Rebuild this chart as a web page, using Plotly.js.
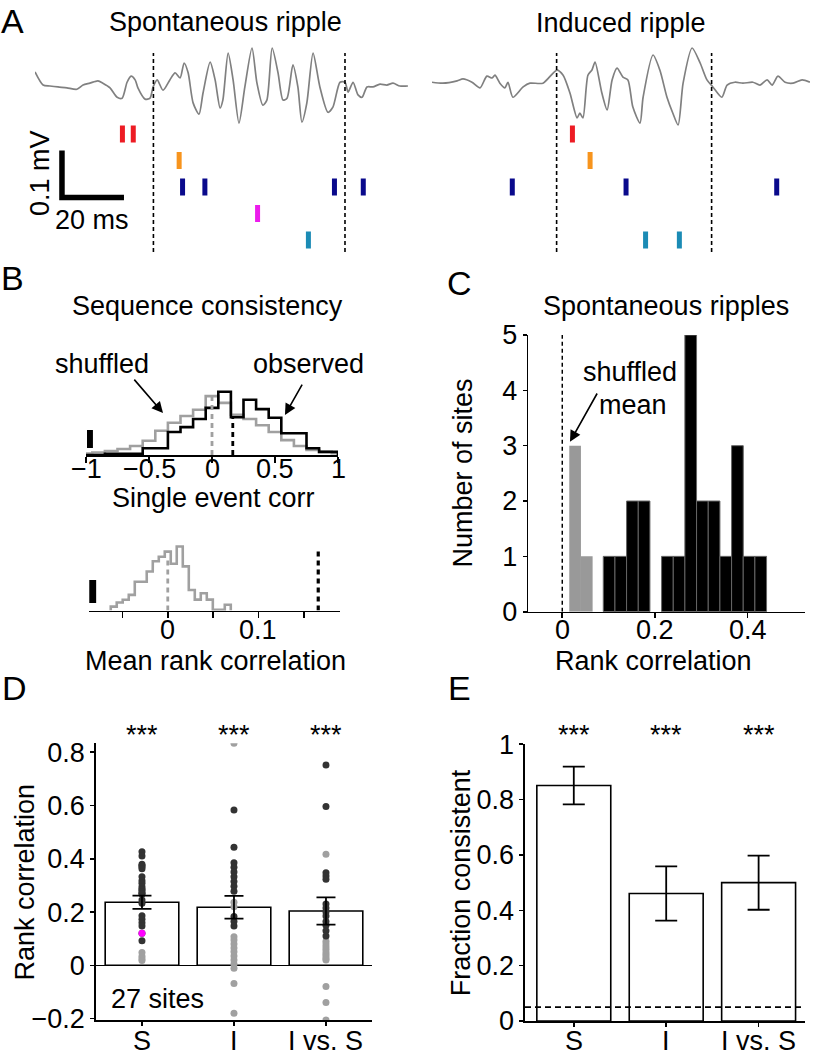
<!DOCTYPE html>
<html><head><meta charset="utf-8">
<script src="https://cdn.plot.ly/plotly-3.0.1.min.js"></script>
<style>html,body{margin:0;padding:0;background:#fff}#chart{width:813px;height:1060px}</style>
</head><body><div id="chart"></div>
<script>
// ================= DATA =================
// Panel A: LFP traces (time in ms, LFP in microvolts)
const spontTime = [0,2.6,4.8,7.4,10.3,13.5,15.5,17.7,20.3,21.9,24.2,26.5,28.1,29.7,31.0,32.3,33.2,35.5,37.1,38.1,39.4,41.3,43.5,45.2,46.8,48.1,49.4,51.0,52.9,54.2,56.5,58.1,59.7,60.6,62.3,63.9,65.8,67.7,70.0,71.6,73.5,74.8,76.5,78.4,80.0,81.3,83.2,84.8,86.1,87.7,89.7,91.9,94.5,96.1,98.4,100.0,101.0,102.6,104.2,105.5,107.1,109.0,111.3,113.5,115.5,117.7,120.3];
const spontLfp = [28,0,-2,-4,-6,-9,0,4,9,4,-6,-26,-28,6,19,11,-6,-30,-28,-4,11,-11,11,26,15,47,26,-38,-62,-17,49,11,-49,-32,68,11,-81,-4,79,4,-43,-32,79,26,-32,-28,43,-4,-79,-38,68,-4,-58,-47,6,6,-15,6,-21,-26,-4,-4,2,0,4,-2,-2];
const inducedTime = [0,3.5,8.1,10.0,12.9,15.5,17.7,19.4,20.3,21.9,23.5,24.5,26.1,29.4,31.6,35.8,40.3,42.3,44.5,46.8,47.7,48.7,50.3,51.6,52.6,54.8,56.5,58.1,59.7,61.6,63.2,64.8,67.1,68.1,71.3,73.5,75.8,77.7,79.4,81.0,83.9,86.5,88.7,90.6,93.5,95.2,97.7,100.3,103.5,105.8,108.1,109.7,111.6,113.9,116.5,119.4,121.9];
const inducedLfp = [6,4,9,13,6,-6,19,15,21,4,-6,6,-26,-4,4,4,32,21,-17,-70,-60,-70,21,32,49,-17,-53,11,36,17,11,-47,-81,-26,64,32,-26,-60,-85,4,79,47,11,-4,-26,0,6,4,6,0,11,0,19,6,4,11,6];
const spontRippleBounds = [38.2, 100.0];
const inducedRippleBounds = [40.2, 90.2];
const unitColors = ['#ed1c24','#f7941d','#0a0a8c','#ec1cec','#1b8bb5'];
const spontSpikeTimes = [[28.2,31.7],[46.5],[47.6,54.8,96.6,105.9],[71.8],[88.2]];
const inducedSpikeTimes = [[45.3],[51.0],[25.9,62.6,111.2],[],[68.9,79.8]];
const scaleBarMs = 20, scaleBarUv = 100;

// Panel B (top): single event correlation histograms
const corrBinCenters = [-1.0,-0.9,-0.8,-0.7,-0.6,-0.5,-0.4,-0.3,-0.2,-0.1,0.0,0.1,0.2,0.3,0.4,0.5,0.6,0.7,0.8,0.9,1.0];
const corrBinWidth = 0.1;
const observedCorrHist = [0,0.0005,0.002,0.002,0.002,0.011,0.011,0.037,0.045,0.058,0.076,0.102,0.061,0.089,0.074,0.060,0.035,0.035,0.011,0.005,0.005];
const shuffledCorrHist = [0.0024,0.004,0.0065,0.0097,0.0145,0.023,0.039,0.052,0.063,0.073,0.095,0.084,0.065,0.058,0.048,0.037,0.024,0.0145,0.008,0.005,0.003];
const corrTickVals = [-1,-0.5,0,0.5,1];
const corrTickText = ['\u22121','\u22120.5','0','0.5','1'];
const shuffledCorrMean = 0.0, observedCorrMean = 0.165;

// Panel B (bottom): mean rank correlation of shuffles
const meanCorrBinCenters = [-0.0596,-0.0530,-0.0464,-0.0397,-0.0331,-0.0265,-0.0199,-0.0132,-0.0066,0.0000,0.0066,0.0132,0.0199,0.0265,0.0331,0.0397,0.0464,0.0530,0.0596,0.0662];
const meanCorrBinWidth = 0.00662;
const shuffledMeanHist = [0.006,0.0125,0.0167,0.0245,0.045,0.045,0.061,0.077,0.084,0.092,0.073,0.100,0.069,0.032,0.017,0.027,0.017,0.001,0.001,0.009];
const meanCorrTickVals = [-0.05,0,0.05,0.1,0.15];
const meanCorrTickText = ['','0','','0.1',''];
const shuffledMeanRank = 0.0, observedMeanRank = 0.166;

// Panel C: spontaneous ripples, rank correlation per site
const cShuffledBins = [0.0277,0.0529];
const cShuffledCounts = [3,1];
const cObservedBins = [0.1011,0.1263,0.1514,0.1766,0.2270,0.2522,0.2773,0.3025,0.3277,0.3529,0.3781,0.4032,0.4284];
const cObservedCounts = [1,1,2,2,1,1,5,2,2,1,3,1,1];
const cBinWidth = 0.0252;
const cTickVals = [0,0.2,0.4];
const cTickText = ['0','0.2','0.4'];

// Panel D: rank correlation per site
const dCategories = ['S','I','I vs. S'];
const dMeans = [0.237,0.218,0.204];
const dSem = [0.025,0.043,0.051];
const dConsistent = [
  [0.4267,0.4105,0.380,0.374,0.370,0.363,0.333,0.318,0.308,0.295,0.287,0.283,0.275,0.270,0.268,0.245,0.233,0.186,0.173,0.160,0.148,0.120,0.092],
  [0.583,0.443,0.385,0.368,0.350,0.333,0.315,0.297,0.278,0.183,0.165,0.148],
  [0.752,0.596,0.348,0.335,0.323,0.230,0.215,0.200,0.185,0.165,0.150,0.130,0.110]
];
const dNotConsistent = [
  [0.048,0.034,0.025,0.018],
  [0.834,0.237,0.220,0.1075,0.095,0.080,0.065,0.051,0.035,0.020,0.005,-0.011,-0.068,-0.180],
  [0.417,0.090,0.080,0.070,0.060,0.050,0.042,0.033,0.025,0.020,-0.080,-0.140,-0.205]
];
const exampleSite = {category: 0, value: 0.120};
const dTickVals = [-0.2,0,0.2,0.4,0.6,0.8];
const dTickText = ['\u22120.2','0','0.2','0.4','0.6','0.8'];

// Panel E: fraction consistent
const eMeans = [0.851,0.461,0.500];
const eErr = [0.068,0.098,0.098];
const chanceLevel = 0.05;
const eTickVals = [0,0.2,0.4,0.6,0.8,1];
const eTickText = ['0','0.2','0.4','0.6','0.8','1'];

// ================= HELPERS =================
const P = px => px / 813;
const Q = py => 1 - py / 1060;
const FONT = 'Liberation Sans, Arial, Helvetica, sans-serif';
const FS = 27;
const GRAY = '#a0a0a0';

function stepOutline(centers, heights, width, xmin, xmax) {
  const xs = [], ys = [];
  centers.forEach((c, i) => {
    const l = Math.max(c - width / 2, xmin), r = Math.min(c + width / 2, xmax);
    if (i === 0) { xs.push(l); ys.push(0); }
    xs.push(l, r); ys.push(heights[i], heights[i]);
    if (i === centers.length - 1) { xs.push(r); ys.push(0); }
  });
  return {xs, ys};
}
function histAt(centers, heights, width, x) {
  let best = 0, bd = 1e9;
  centers.forEach((c, i) => { const d = Math.abs(x - c); if (d < bd) { bd = d; best = i; } });
  return heights[best];
}

const traces = [];
// ---- A: LFP ----
traces.push({x: spontTime, y: spontLfp, xaxis: 'x', yaxis: 'y', mode: 'lines',
  line: {color: '#808080', width: 1.7, shape: 'spline', smoothing: 0.7}, hoverinfo: 'skip'});
traces.push({x: inducedTime, y: inducedLfp, xaxis: 'x2', yaxis: 'y', mode: 'lines',
  line: {color: '#808080', width: 1.7, shape: 'spline', smoothing: 0.7}, hoverinfo: 'skip'});
// ---- A: spike rasters ----
[[spontSpikeTimes, 'x'], [inducedSpikeTimes, 'x2']].forEach(([spk, xa]) => {
  spk.forEach((times, r) => {
    if (!times.length) return;
    traces.push({x: times, y: times.map(() => r + 1), xaxis: xa, yaxis: 'y2', mode: 'markers',
      marker: {symbol: 'line-ns', size: 12, line: {width: 5, color: unitColors[r]}}, hoverinfo: 'skip'});
  });
});
// ---- B top ----
const shufB = stepOutline(corrBinCenters, shuffledCorrHist, corrBinWidth, -1, 1);
const obsB = stepOutline(corrBinCenters, observedCorrHist, corrBinWidth, -1, 1);
traces.push({x: shufB.xs, y: shufB.ys, xaxis: 'x3', yaxis: 'y3', mode: 'lines', line: {color: GRAY, width: 2.6}, hoverinfo: 'skip'});
traces.push({x: obsB.xs, y: obsB.ys, xaxis: 'x3', yaxis: 'y3', mode: 'lines', line: {color: 'black', width: 2.6}, hoverinfo: 'skip'});
// ---- B bottom ----
const shufM = stepOutline(meanCorrBinCenters, shuffledMeanHist, meanCorrBinWidth, -1, 1);
traces.push({x: shufM.xs, y: shufM.ys, xaxis: 'x4', yaxis: 'y4', mode: 'lines', line: {color: GRAY, width: 2.6}, hoverinfo: 'skip'});
// ---- C ----
traces.push({type: 'bar', x: cShuffledBins, y: cShuffledCounts, width: cShuffledBins.map(() => cBinWidth),
  xaxis: 'x5', yaxis: 'y5', marker: {color: '#999999', line: {color: '#999999', width: 0}}, hoverinfo: 'skip'});
traces.push({type: 'bar', x: cObservedBins, y: cObservedCounts, width: cObservedBins.map(() => cBinWidth),
  xaxis: 'x5', yaxis: 'y5', marker: {color: 'black', line: {color: '#666666', width: 1}}, hoverinfo: 'skip'});
// ---- D ----
const catIdx = dCategories.map((c, i) => i);
traces.push({type: 'bar', x: catIdx, y: dMeans, width: 0.8, xaxis: 'x6', yaxis: 'y6',
  marker: {color: 'white', line: {color: 'black', width: 1.6}}, hoverinfo: 'skip'});
const ncX = [], ncY = [], cX = [], cY = [];
dNotConsistent.forEach((vals, i) => vals.forEach(v => { ncX.push(i); ncY.push(v); }));
dConsistent.forEach((vals, i) => vals.forEach(v => { cX.push(i); cY.push(v); }));
traces.push({x: ncX, y: ncY, xaxis: 'x6', yaxis: 'y6', mode: 'markers', marker: {color: GRAY, size: 7}, hoverinfo: 'skip'});
traces.push({x: cX, y: cY, xaxis: 'x6', yaxis: 'y6', mode: 'markers', marker: {color: '#333333', size: 7}, hoverinfo: 'skip'});
traces.push({x: [exampleSite.category], y: [exampleSite.value], xaxis: 'x6', yaxis: 'y6', mode: 'markers', marker: {color: '#ff00ff', size: 7}, hoverinfo: 'skip'});
traces.push({x: catIdx, y: dMeans, xaxis: 'x6', yaxis: 'y6', mode: 'markers', marker: {size: 1, color: 'rgba(0,0,0,0)'},
  error_y: {type: 'data', array: dSem, color: 'black', thickness: 1.8, width: 9.5}, hoverinfo: 'skip'});
// ---- E ----
traces.push({type: 'bar', x: catIdx, y: eMeans, width: 0.8, xaxis: 'x7', yaxis: 'y7',
  marker: {color: 'white', line: {color: 'black', width: 1.6}},
  error_y: {type: 'data', array: eErr, color: 'black', thickness: 1.8, width: 11}, hoverinfo: 'skip'});

// ================= SHAPES =================
const shapes = [];
const dashA = {color: 'black', width: 1.6, dash: '4px,3px'};
spontRippleBounds.forEach(b => shapes.push({type: 'line', xref: 'x', yref: 'paper', x0: b, x1: b, y0: Q(252), y1: Q(53), line: dashA}));
inducedRippleBounds.forEach(b => shapes.push({type: 'line', xref: 'x2', yref: 'paper', x0: b, x1: b, y0: Q(252), y1: Q(53), line: dashA}));
// scale bar (A)
const sbX = 8.7, sbY = -239.6;
shapes.push({type: 'path', xref: 'x', yref: 'y',
  path: `M ${sbX},${sbY + scaleBarUv} L ${sbX},${sbY} L ${sbX + scaleBarMs},${sbY}`,
  line: {color: 'black', width: 5.5}});
// B top
shapes.push({type: 'rect', xref: 'x3', yref: 'y3', x0: -0.992, x1: -0.945, y0: 0.0113, y1: 0.0403, fillcolor: 'black', line: {width: 0}});
shapes.push({type: 'line', xref: 'x3', yref: 'y3', x0: shuffledCorrMean, x1: shuffledCorrMean, y0: 0,
  y1: histAt(corrBinCenters, shuffledCorrHist, corrBinWidth, shuffledCorrMean), line: {color: GRAY, width: 2.8, dash: '5px,4px'}});
shapes.push({type: 'line', xref: 'x3', yref: 'y3', x0: observedCorrMean, x1: observedCorrMean, y0: 0,
  y1: histAt(corrBinCenters, observedCorrHist, corrBinWidth, observedCorrMean), line: {color: 'black', width: 2.8, dash: '5px,4px'}});
// B bottom
shapes.push({type: 'rect', xref: 'x4', yref: 'y4', x0: -0.0866, x1: -0.0790, y0: 0.0117, y1: 0.0477, fillcolor: 'black', line: {width: 0}});
shapes.push({type: 'line', xref: 'x4', yref: 'y4', x0: shuffledMeanRank, x1: shuffledMeanRank, y0: 0,
  y1: histAt(meanCorrBinCenters, shuffledMeanHist, meanCorrBinWidth, shuffledMeanRank) * 0.85, line: {color: GRAY, width: 2.8, dash: '5px,4px'}});
shapes.push({type: 'line', xref: 'x4', yref: 'y4', x0: observedMeanRank, x1: observedMeanRank, y0: 0,
  y1: Math.max(...shuffledMeanHist) * 0.95, line: {color: 'black', width: 3.2, dash: '5px,4px'}});
// C zero line
shapes.push({type: 'line', xref: 'x5', yref: 'y5', x0: 0, x1: 0, y0: 0, y1: 5, line: {color: 'black', width: 1.5, dash: '4px,3px'}});
// E chance level
shapes.push({type: 'line', xref: 'x7 domain', yref: 'y7', x0: 0, x1: 1, y0: chanceLevel, y1: chanceLevel, line: {color: 'black', width: 1.6, dash: '6px,4px'}});

// ================= ANNOTATIONS =================
const ann = [];
function txt(text, px, py, opts = {}) {
  ann.push(Object.assign({xref: 'paper', yref: 'paper', x: P(px), y: Q(py), text, showarrow: false,
    xanchor: 'center', yanchor: 'middle', font: {size: FS, family: FONT, color: 'black'}}, opts));
}
function tickLabels(xa, vals, texts, py) {
  vals.forEach((v, i) => {
    if (!texts[i]) return;
    ann.push({xref: xa, yref: 'paper', x: v, y: Q(py), text: texts[i], showarrow: false,
      xanchor: 'center', yanchor: 'middle', font: {size: FS, family: FONT, color: 'black'}});
  });
}
const letter = {xanchor: 'left', font: {size: 34, family: FONT, color: 'black'}};
txt('A', -1, 21, letter);
txt('B', -1, 278, letter);
txt('C', 445, 283, letter);
txt('D', 0, 688, letter);
txt('E', 446, 688, letter);
txt('Spontaneous ripple', 225, 22);
txt('Induced ripple', 621, 22.5);
txt('0.1 mV', 40, 173, {textangle: -90});
txt('20 ms', 91.7, 219.5);
txt('Sequence consistency', 207.5, 306);
txt('shuffled', 102, 364);
txt('observed', 308, 364);
txt('Single event corr', 213.3, 498);
txt('Mean rank correlation', 215, 661);
txt('Spontaneous ripples', 666, 306);
txt('shuffled', 629.5, 372.5);
txt('mean', 633.3, 405);
txt('Number of sites', 463, 472.5, {textangle: -90});
txt('Rank correlation', 653, 661);
txt('Rank correlation', 24, 882.5, {textangle: -90});
txt('27 sites', 157.5, 999);
txt('Fraction consistent', 461, 883.3, {textangle: -90});
tickLabels('x3', corrTickVals, corrTickText, 469);
tickLabels('x4', meanCorrTickVals, meanCorrTickText, 630);
tickLabels('x5', cTickVals, cTickText, 630);
tickLabels('x6', catIdx, dCategories, 1041);
tickLabels('x7', catIdx, dCategories, 1041);
catIdx.forEach(i => {
  ann.push({xref: 'x6', yref: 'paper', x: i, y: Q(735), text: '***', showarrow: false, xanchor: 'center', yanchor: 'middle', font: {size: FS, family: FONT}});
  ann.push({xref: 'x7', yref: 'paper', x: i, y: Q(735), text: '***', showarrow: false, xanchor: 'center', yanchor: 'middle', font: {size: FS, family: FONT}});
});
function arrow(xa, ya, hx, hy, tx, ty) {
  ann.push({xref: xa, yref: ya, axref: xa, ayref: ya, x: hx, y: hy, ax: tx, ay: ty, text: '', showarrow: true,
    arrowhead: 2, arrowsize: 1.4, arrowwidth: 1.6, arrowcolor: 'black', standoff: 0});
}
arrow('x3', 'y3', -0.389, 0.0677, -0.627, 0.124);
arrow('x3', 'y3', 0.579, 0.0645, 0.722, 0.116);
arrow('x5', 'y5', 0.0166, 3.07, 0.077, 3.97);

// ================= LAYOUT =================
const axBase = {showgrid: false, zeroline: false, showline: true, linecolor: 'black', linewidth: 1.6,
  ticks: 'outside', tickcolor: 'black', tickwidth: 1.6, tickfont: {size: FS, family: FONT, color: 'black'}, fixedrange: true};
const layout = {
  width: 813, height: 1060, margin: {l: 0, r: 0, t: 0, b: 0}, showlegend: false, barmode: 'overlay',
  paper_bgcolor: 'white', plot_bgcolor: 'rgba(0,0,0,0)', font: {family: FONT, size: FS, color: 'black'},
  xaxis: {domain: [P(35), P(410)], range: [0, 120.97], visible: false, anchor: 'y'},
  yaxis: {domain: [Q(205), Q(40)], range: [-255.6, 96], visible: false, anchor: 'x'},
  xaxis2: {domain: [P(432), P(810)], range: [0, 121.94], visible: false, anchor: 'y'},
  yaxis2: {domain: [Q(253.25), Q(120.75)], range: [5.5, 0.5], visible: false, anchor: 'x'},
  xaxis3: Object.assign({}, axBase, {domain: [P(86), P(338)], range: [-1, 1], anchor: 'y3', ticklen: 6, tickmode: 'array', tickvals: corrTickVals, showticklabels: false}),
  yaxis3: {domain: [Q(455), Q(330)], range: [0, 0.2016], visible: false, anchor: 'x3'},
  xaxis4: Object.assign({}, axBase, {domain: [P(89), P(340)], range: [-0.0869, 0.190], anchor: 'y4', ticklen: 6, tickmode: 'array', tickvals: meanCorrTickVals, showticklabels: false}),
  yaxis4: {domain: [Q(610.5), Q(540)], range: [0, 0.1102], visible: false, anchor: 'x4'},
  xaxis5: Object.assign({}, axBase, {domain: [P(523), P(805)], range: [-0.0848, 0.524], anchor: 'y5', ticklen: 5, tickmode: 'array', tickvals: cTickVals, showticklabels: false}),
  yaxis5: Object.assign({}, axBase, {domain: [Q(611.7), Q(335)], range: [0, 5], anchor: 'free', position: P(526.7), ticklen: 4, tickmode: 'array', tickvals: [0, 1, 2, 3, 4, 5]}),
  xaxis6: Object.assign({}, axBase, {domain: [P(95.7), P(371.7)], range: [-0.503, 2.497], anchor: 'y6', ticklen: 4, tickmode: 'array', tickvals: catIdx, showticklabels: false}),
  yaxis6: Object.assign({}, axBase, {domain: [Q(1020), Q(743.3)], range: [-0.2054, 0.8338], anchor: 'x6', ticklen: 4, tickmode: 'array', tickvals: dTickVals, ticktext: dTickText, zeroline: true, zerolinecolor: 'black', zerolinewidth: 1.6}),
  xaxis7: Object.assign({}, axBase, {domain: [P(525), P(805)], range: [-0.528, 2.502], anchor: 'y7', ticklen: 4, tickmode: 'array', tickvals: catIdx, showticklabels: false}),
  yaxis7: Object.assign({}, axBase, {domain: [Q(1021), Q(744.3)], range: [0, 1], anchor: 'x7', ticklen: 4, tickmode: 'array', tickvals: eTickVals, ticktext: eTickText}),
  shapes: shapes,
  annotations: ann
};
Plotly.newPlot('chart', traces, layout, {staticPlot: true, displayModeBar: false});
</script>
</body></html>
